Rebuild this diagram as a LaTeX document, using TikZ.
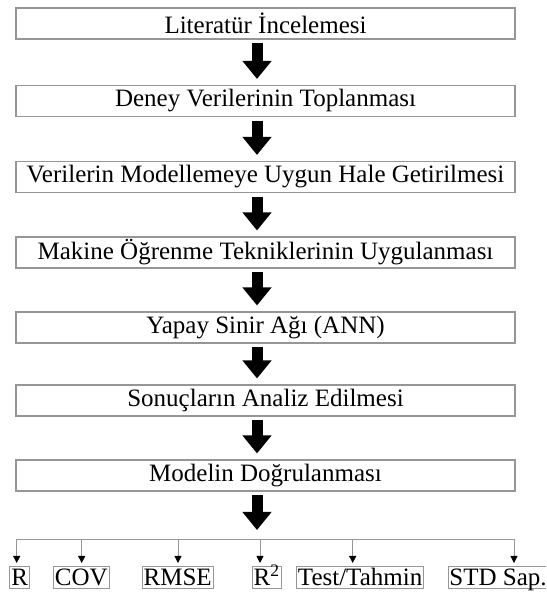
\documentclass[tikz,border=0pt]{standalone}
\usepackage{fontspec}
\setmainfont{Liberation Serif}
\usetikzlibrary{arrows.meta}
\definecolor{boxgray}{RGB}{150,150,150}
\begin{document}
\begin{tikzpicture}[x=1pt,y=1pt,
  stepbox/.style={draw=boxgray, line width=1.1pt, minimum width=499pt, minimum height=31pt, inner sep=0pt, font=\fontsize{25}{28}\selectfont},
  smallbox/.style={draw=boxgray, line width=0.9pt, inner xsep=1.5pt, inner ysep=2.5pt, text height=17pt, text depth=0pt, font=\fontsize{25}{28}\selectfont, anchor=north west},
  bigarrow/.style={line width=11pt, -{Triangle[width=28pt,length=18pt]}, shorten <=3.5pt, shorten >=6pt},
  link/.style={draw=boxgray, line width=0.9pt},
  droparrow/.style={link, -{Triangle[width=7pt,length=7pt,color=black]}, shorten >=3pt}]
\useasboundingbox (0,0) rectangle (546,594);
\clip (0,0) rectangle (546,594);

\node[stepbox] (b1) at (265.5,570.5) {Literatür İncelemesi};
\node[stepbox] (b2) at (265.5,493) {Deney Verilerinin Toplanması};
\node[stepbox] (b3) at (265.5,417) {Verilerin Modellemeye Uygun Hale Getirilmesi};
\node[stepbox] (b4) at (265.5,341.5) {Makine Öğrenme Tekniklerinin Uygulanması};
\node[stepbox] (b5) at (265.5,266.5) {Yapay Sinir Ağı (ANN)};
\node[stepbox] (b6) at (265.5,193.5) {Sonuçların Analiz Edilmesi};
\node[stepbox] (b7) at (265.5,118.5) {Modelin Doğrulanması};

\draw[bigarrow] ([xshift=-8.5pt]b1.south) -- ([xshift=-8.5pt]b2.north);
\draw[bigarrow] ([xshift=-8.5pt]b2.south) -- ([xshift=-8.5pt]b3.north);
\draw[bigarrow] ([xshift=-8.5pt]b3.south) -- ([xshift=-8.5pt]b4.north);
\draw[bigarrow] ([xshift=-8.5pt]b4.south) -- ([xshift=-8.5pt]b5.north);
\draw[bigarrow] ([xshift=-8.5pt]b5.south) -- ([xshift=-8.5pt]b6.north);
\draw[bigarrow] ([xshift=-8.5pt]b6.south) -- ([xshift=-8.5pt]b7.north);
\coordinate (hub) at (257,64);
\draw[bigarrow, shorten >=0pt] ([xshift=-8.5pt]b7.south) -- (hub);

\node[smallbox] (r) at (9.3,28) {R};
\node[smallbox] (cov) at (53,28) {COV};
\node[smallbox] (rmse) at (141.7,28) {RMSE};
\node[smallbox] (r2) at (251.7,28) {R\textsuperscript{2}};
\node[smallbox] (test) at (296,28) {Test/Tahmin};
\node[smallbox] (std) at (447.5,28) {STD Sap.};

\coordinate (d1) at (16.7,54.5);
\coordinate (d2) at (81.7,54.5);
\coordinate (d3) at (178,54.5);
\coordinate (d4) at (260,54.5);
\coordinate (d5) at (352.7,54.5);
\coordinate (d6) at (514,54.5);
\draw[link] (d1) -- (d6);
\draw[droparrow] (d1) -- (d1 |- r.north);
\draw[droparrow] (d2) -- (d2 |- cov.north);
\draw[droparrow] (d3) -- (d3 |- rmse.north);
\draw[droparrow] (d4) -- (d4 |- r2.north);
\draw[droparrow] (d5) -- (d5 |- test.north);
\draw[droparrow] (d6) -- (d6 |- std.north);
\end{tikzpicture}
\end{document}
